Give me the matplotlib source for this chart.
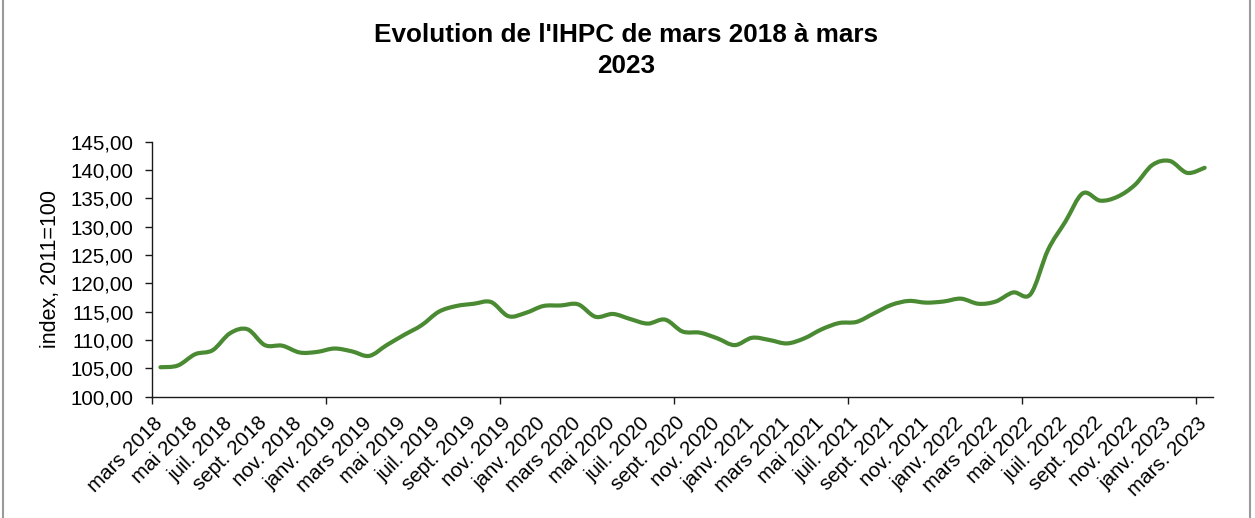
import matplotlib
matplotlib.use("Agg")
import matplotlib.pyplot as plt
from matplotlib.path import Path
from matplotlib.patches import PathPatch
from matplotlib.lines import Line2D
import matplotlib.transforms as mtransforms
import numpy as np

plt.rcParams['font.family'] = ['Liberation Sans', 'DejaVu Sans']

# ---- data ----
months = list(range(61))  # mars 2018 .. mars 2023, monthly
ihpc = [105.2, 105.5, 107.5, 108.2, 111.2, 111.9, 109.1, 109.0, 107.8, 107.9,
        108.5, 108.0, 107.2, 109.1, 110.9, 112.6, 115.0, 116.0, 116.4, 116.7,
        114.2, 114.8, 116.0, 116.1, 116.3, 114.1, 114.6, 113.7, 112.9, 113.6,
        111.5, 111.3, 110.3, 109.1, 110.4, 110.0, 109.4, 110.3, 111.9, 113.0,
        113.2, 114.7, 116.2, 116.9, 116.6, 116.8, 117.3, 116.4, 116.8, 118.4,
        118.1, 125.9, 130.9, 135.9, 134.6, 135.3, 137.4, 140.9, 141.6, 139.5,
        140.4]
tick_labels = ["mars 2018", "mai 2018", "juil. 2018", "sept. 2018", "nov. 2018",
               "janv. 2019", "mars 2019", "mai 2019", "juil. 2019", "sept. 2019", "nov. 2019",
               "janv. 2020", "mars 2020", "mai 2020", "juil. 2020", "sept. 2020", "nov. 2020",
               "janv. 2021", "mars 2021", "mai 2021", "juil. 2021", "sept. 2021", "nov. 2021",
               "janv. 2022", "mars 2022", "mai 2022", "juil. 2022", "sept. 2022", "nov. 2022",
               "janv. 2023", "mars. 2023"]
yticks = [100, 105, 110, 115, 120, 125, 130, 135, 140, 145]
title = "Evolution de l'IHPC de mars 2018 à mars\n2023"
ylabel = "index, 2011=100"

fig = plt.figure(figsize=(12.55, 5.18), dpi=100)
ax = fig.add_axes([0.1209, 0.2342, 0.9668 - 0.1209, 0.7264 - 0.2342])

# smooth (Excel-like) curve through the data points
x = np.array(months, dtype=float)
y = np.array(ihpc, dtype=float)
n = len(x)
verts = [(x[0], y[0])]
codes = [Path.MOVETO]
for i in range(n - 1):
    p0 = np.array([x[max(i - 1, 0)], y[max(i - 1, 0)]])
    p1 = np.array([x[i], y[i]])
    p2 = np.array([x[i + 1], y[i + 1]])
    p3 = np.array([x[min(i + 2, n - 1)], y[min(i + 2, n - 1)]])
    c1 = p1 + (p2 - p0) / 6.0
    c2 = p2 - (p3 - p1) / 6.0
    verts += [tuple(c1), tuple(c2), tuple(p2)]
    codes += [Path.CURVE4] * 3
ax.add_patch(PathPatch(Path(verts, codes), fill=False, edgecolor='#4A8A33',
                       lw=3.0, capstyle='round', joinstyle='round'))

ax.set_xlim(-0.5, 60.5)
ax.set_ylim(100, 145)

for s in ['top', 'right']:
    ax.spines[s].set_visible(False)
for s in ['left', 'bottom']:
    ax.spines[s].set_color('#1a1a1a')
    ax.spines[s].set_linewidth(1.0)

ax.set_yticks(yticks)
ax.set_yticklabels([f"{v:.2f}".replace('.', ',') for v in yticks], fontsize=14.8)
ax.tick_params(axis='y', direction='out', length=5, width=1, color='#1a1a1a', pad=8)

ax.set_xticks(months[::2])
ax.set_xticklabels(tick_labels, rotation=45, ha='right', va='top',
                   rotation_mode='default', fontsize=14.8)
ax.tick_params(axis='x', which='major', length=0, pad=12)
offset = mtransforms.ScaledTranslation(6 / 100, 0, fig.dpi_scale_trans)
for lab in ax.get_xticklabels():
    lab.set_transform(lab.get_transform() + offset)
ax.set_xticks(np.arange(-0.5, 61, 10), minor=True)
ax.tick_params(axis='x', which='minor', direction='out', length=5, width=1, color='#1a1a1a')

ax.set_ylabel(ylabel, fontsize=15.5)
ax.yaxis.set_label_coords(-0.0857, 0.5)

fig.text(626 / 1255, 1 - 73.3 / 518, title, ha='center', va='baseline',
         fontsize=18.8, fontweight='bold', linespacing=1.39, multialignment='center')

# outer chart border (left & right visible)
for xb in [2.5 / 1255, 1250 / 1255]:
    fig.add_artist(Line2D([xb, xb], [0, 1], transform=fig.transFigure,
                          color='#9a9a9a', lw=1.5))

fig.savefig('out.png', dpi=100)
